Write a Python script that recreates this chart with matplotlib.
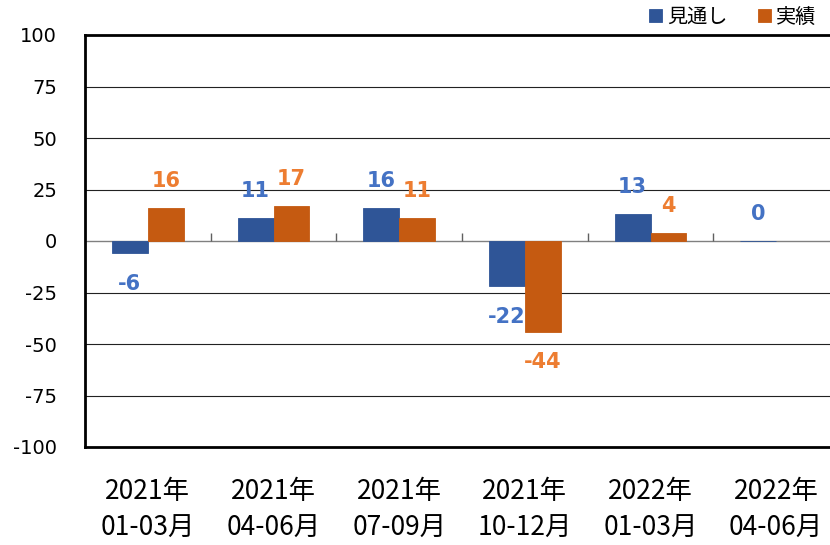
import matplotlib
matplotlib.use("Agg")
import matplotlib.pyplot as plt
import numpy as np

categories = ["2021年\n01-03月", "2021年\n04-06月", "2021年\n07-09月",
              "2021年\n10-12月", "2022年\n01-03月", "2022年\n04-06月"]
forecast = [-6, 11, 16, -22, 13, 0]          # 見通し
actual = [16, 17, 11, -44, 4, np.nan]        # 実績
series_names = ["見通し", "実績"]
yticks = [-100, -75, -50, -25, 0, 25, 50, 75, 100]

bar_colors = ["#2F5597", "#C55A11"]
label_colors = ["#4472C4", "#ED7D31"]

plt.rcParams['font.family'] = ['DejaVu Sans', 'Noto Sans CJK JP']

fig = plt.figure(figsize=(8.30, 5.45), dpi=100)
W, H = 830, 545
left, right, top, bottom = 85, 839, 35, 447
ax = fig.add_axes([left / W, 1 - bottom / H, (right - left) / W, (bottom - top) / H])

x = np.arange(len(categories))
bw = 0.286
series = [forecast, actual]
offsets = [-bw / 2, bw / 2]
for vals, off, bc, lc, name in zip(series, offsets, bar_colors, label_colors, series_names):
    vals = np.array(vals, dtype=float)
    ax.bar(x + off, vals, width=bw, color=bc, edgecolor=bc, linewidth=0.6, label=name, zorder=3)
    for xi, v in zip(x, vals):
        if np.isnan(v):
            continue
        dy = 19.5 if v >= 0 else -22
        ax.annotate(f"{int(v)}", (xi + off, v), xytext=(0, dy), textcoords="offset points",
                    ha="center", va="center", color=lc, fontsize=15, fontweight="bold",
                    zorder=4)

ax.set_xlim(-0.5, len(categories) - 0.5)
ax.set_ylim(-100, 100)
ax.set_yticks(yticks)
ax.set_yticklabels([str(t) for t in yticks], fontsize=14)
for t in yticks[1:-1]:
    if t == 0:
        continue
    ax.axhline(t, color="#222222", linewidth=0.8, zorder=1)
ax.axhline(0, color="#808080", linewidth=1.0, zorder=2)
# category boundary ticks on zero line
ax.vlines(np.arange(len(categories) - 1) + 0.5, 0, 4, color="#606060", linewidth=1.0, zorder=2)

ax.set_xticks(x)
ax.set_xticklabels(categories, fontsize=19, family=['Noto Sans CJK JP'], linespacing=1.5)
ax.tick_params(axis='x', length=0, pad=22)
ax.tick_params(axis='y', length=0, pad=20)

for s in ["left", "top", "bottom"]:
    ax.spines[s].set_linewidth(2.0)
    ax.spines[s].set_color("black")
ax.spines["right"].set_visible(False)

leg = ax.legend(loc="center right", bbox_to_anchor=(816 / W, 1 - 17 / H),
                bbox_transform=fig.transFigure, ncol=2, frameon=False,
                handlelength=0.65, handleheight=0.65, handletextpad=0.25,
                columnspacing=1.5, prop={'family': ['Noto Sans CJK JP'], 'size': 14.5},
                borderpad=0, borderaxespad=0)

fig.savefig("out.png", dpi=100)
